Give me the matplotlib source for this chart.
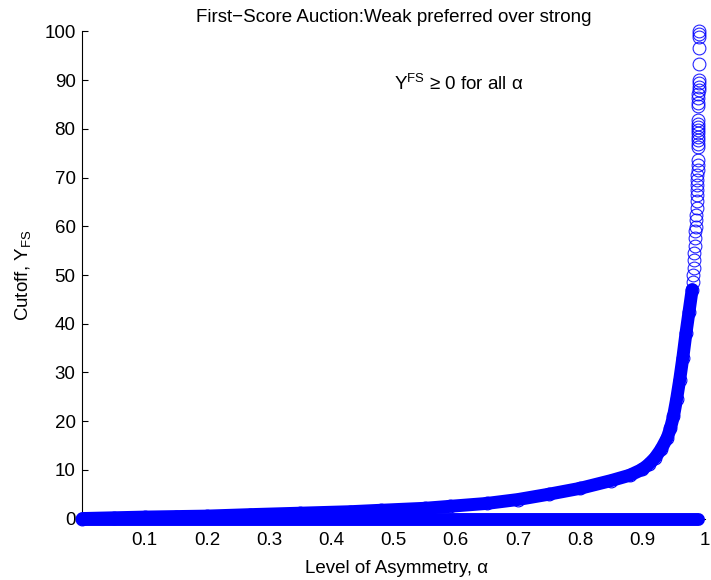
import matplotlib
matplotlib.use("Agg")
import matplotlib.pyplot as plt

plt.rcParams['font.family'] = ['Liberation Sans', 'DejaVu Sans']
plt.rcParams['mathtext.fontset'] = 'custom'
plt.rcParams['mathtext.rm'] = 'Liberation Sans'
plt.rcParams['mathtext.it'] = 'Liberation Sans:italic'

# upper branch, dense part
alpha_up = [0.0, 0.05, 0.1, 0.15, 0.2, 0.27, 0.35, 0.43, 0.48, 0.55, 0.59,
            0.65, 0.70, 0.75, 0.80, 0.85, 0.88, 0.90, 0.91, 0.92, 0.93,
            0.94, 0.945, 0.95, 0.955, 0.96, 0.965, 0.97, 0.975, 0.98]
cutoff_up = [0.0, 0.15, 0.3, 0.4, 0.5, 0.8, 1.1, 1.4, 1.7, 2.1, 2.5,
             3.1, 3.9, 5.0, 6.2, 7.8, 8.9, 10.1, 11.1, 12.4, 14.2,
             16.6, 18.5, 21.0, 24.5, 28.5, 33.0, 38.0, 42.5, 47.0]

# upper branch, sparse points near alpha = 1
alpha_top = [0.9815, 0.982, 0.9825, 0.983, 0.9835, 0.984, 0.9845, 0.985,
             0.9855, 0.986, 0.9865, 0.987, 0.9872, 0.9875, 0.9877, 0.988,
             0.9882, 0.9884, 0.9886, 0.9888, 0.989, 0.989, 0.9891, 0.9892,
             0.9893, 0.9894, 0.9895, 0.9896, 0.9897, 0.9898, 0.9899, 0.99,
             0.99, 0.9901, 0.9902, 0.9903, 0.9904, 0.9905, 0.9906, 0.9907,
             0.9908, 0.9909, 0.991]
cutoff_top = [48.5, 50.0, 51.5, 53.0, 54.5, 56.0, 57.5, 59.0,
              59.9, 61.3, 62.3, 63.7, 65.1, 66.4, 67.5, 68.5,
              69.5, 70.6, 71.6, 72.6, 73.6, 76.3, 77.0, 77.7,
              78.4, 79.1, 79.8, 80.4, 81.1, 81.8, 84.6, 85.4,
              86.3, 87.2, 88.0, 88.7, 89.4, 90.0, 93.3, 96.7,
              98.8, 99.5, 100.0]

# lower branch
alpha_flat = [0.0, 0.25, 0.5, 0.75, 0.99]
cutoff_flat = [0, 0, 0, 0, 0]

x_ticks = [0.1, 0.2, 0.3, 0.4, 0.5, 0.6, 0.7, 0.8, 0.9, 1.0]
x_labels = ['0.1', '0.2', '0.3', '0.4', '0.5', '0.6', '0.7', '0.8', '0.9', '1']
y_ticks = list(range(0, 101, 10))

fs = 13.5

fig = plt.figure(figsize=(7.11, 5.8), dpi=100)
ax = fig.add_axes([0.116, 0.106, 0.875, 0.8397])

blue = (0, 0, 1)
# dense runs of markers render as a solid band
ax.plot(alpha_flat, cutoff_flat, color=blue, lw=9.3, solid_capstyle='round', clip_on=False, zorder=3)
ax.plot(alpha_up, cutoff_up, color=blue, lw=9.3, solid_capstyle='round', clip_on=False, zorder=3)
ax.plot(alpha_up, cutoff_up, 'o', mfc='none', mec=blue, ms=9.2, mew=0.8, clip_on=False, zorder=4)
ax.plot(alpha_top, cutoff_top, 'o', mfc='none', mec=blue, ms=9.2, mew=0.8, alpha=0.85, clip_on=False, zorder=4)

ax.set_xlim(0, 1)
ax.set_ylim(0, 100)
ax.set_xticks(x_ticks)
ax.set_xticklabels(x_labels)
ax.set_yticks(y_ticks)
ax.tick_params(direction='in', length=4, width=0.8, labelsize=fs, pad=5)
ax.tick_params(axis='x', length=0, pad=10)
ax.spines['top'].set_visible(False)
ax.spines['right'].set_visible(False)
ax.spines['left'].set_linewidth(0.8)
ax.spines['bottom'].set_linewidth(0.8)

ax.set_title('First\u2212Score Auction:Weak preferred over strong', fontsize=fs, pad=7)
ax.set_xlabel('Level of Asymmetry, \u03b1', fontsize=fs)
ax.set_ylabel('Cutoff, Y$_{\\mathrm{FS}}$', fontsize=fs)
ax.xaxis.set_label_coords(0.505, -0.085)
ax.yaxis.set_label_coords(-0.08, 0.5)

ax.text(0.5, 89.3, 'Y$^{\\mathrm{FS}}$ \u2265 0 for all \u03b1', fontsize=fs, ha='left', va='center')

fig.savefig('out.png', dpi=100)
